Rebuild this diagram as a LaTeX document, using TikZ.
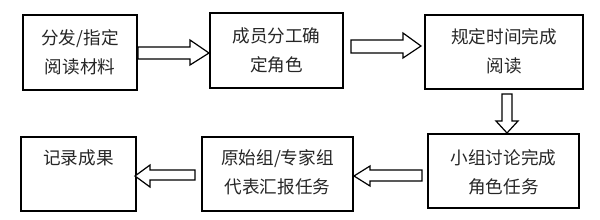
\documentclass[tikz,border=0pt]{standalone}
\usepackage{fontspec}
\newfontfamily\cjk{Noto Sans CJK SC}
\begin{document}
\begin{tikzpicture}[x=0.75pt,y=-0.75pt,
  box/.style={draw=black,line width=0.9pt,fill=white,inner sep=0pt},
  txt/.style={font=\cjk\fontsize{13.2pt}{21.75pt}\selectfont,text=black!85,align=center,inner sep=0pt},
  blockarrow/.style={draw=black,line width=0.9pt,fill=white,line join=miter}]
\useasboundingbox (0,0) rectangle (600,219);
\fill[white] (0,0) rectangle (600,219);
% boxes
\node[box,minimum width=114*0.75pt,minimum height=75*0.75pt] (b1) at (80,52.5) {};
\node[box,minimum width=133*0.75pt,minimum height=75*0.75pt] (b2) at (276.5,50.5) {};
\node[box,minimum width=158*0.75pt,minimum height=74*0.75pt] (b3) at (504,52) {};
\node[box,minimum width=151*0.75pt,minimum height=74*0.75pt] (b4) at (503.5,171) {};
\node[box,minimum width=151*0.75pt,minimum height=74*0.75pt] (b5) at (277.5,174) {};
\node[box,minimum width=115*0.75pt,minimum height=74*0.75pt] (b6) at (78.5,174) {};
% texts
\node[txt] (t1) at (80,52.5) {分发/指定\\阅读材料};
\node[txt] (t2) at (276.5,50) {成员分工确\\定角色};
\node[txt] (t3) at (504,51) {规定时间完成\\阅读};
\node[txt] (t4) at (503.5,172.5) {小组讨论完成\\角色任务};
\node[txt] (t5) at (277.5,172.5) {原始组/专家组\\代表汇报任务};
\node[txt] (t6) at (78.5,158) {记录成果};
% block arrows
\draw[blockarrow] (138,47) -- (190,47) -- (190,40) -- (209,53) -- (190,65) -- (190,59) -- (138,59) -- cycle;
\draw[blockarrow] (351,40) -- (403,40) -- (403,33) -- (421,46) -- (403,58) -- (403,53) -- (351,53) -- cycle;
\draw[blockarrow] (502,94) -- (512,94) -- (512,121) -- (518,121) -- (507,133) -- (496,121) -- (502,121) -- cycle;
\draw[blockarrow] (422,170) -- (370,170) -- (370,166) -- (354,176) -- (370,186) -- (370,181) -- (422,181) -- cycle;
\draw[blockarrow] (195,170) -- (150,170) -- (150,165) -- (135,176) -- (150,187) -- (150,180) -- (195,180) -- cycle;
\end{tikzpicture}
\end{document}
